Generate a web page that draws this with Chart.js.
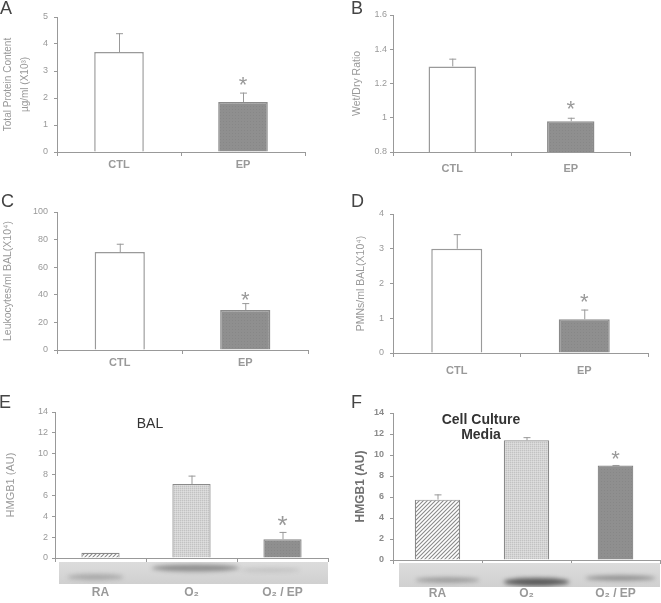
<!DOCTYPE html>
<html>
<head>
<meta charset="utf-8">
<script src="https://cdn.jsdelivr.net/npm/chart.js@4.4.1/dist/chart.umd.min.js"></script>
<style>
  body { margin: 0; background: #fff; width: 661px; height: 603px; position: relative; overflow: hidden;
         font-family: "Liberation Sans", Arial, sans-serif; }
  canvas { position: absolute; }
  .txt { position: absolute; white-space: nowrap; line-height: 1; color: #333; }
  .letter { font-size: 18px; color: #444; }
</style>
</head>
<body>
<canvas id="cA" width="330" height="190" style="left:0;top:0"></canvas>
<canvas id="cB" width="331" height="190" style="left:330px;top:0"></canvas>
<canvas id="cC" width="330" height="200" style="left:0;top:190px"></canvas>
<canvas id="cD" width="331" height="200" style="left:330px;top:190px"></canvas>
<canvas id="cE" width="330" height="213" style="left:0;top:390px"></canvas>
<canvas id="cF" width="331" height="213" style="left:330px;top:390px"></canvas>

<div class="txt letter" style="left:0;top:-1px">A</div>
<div class="txt letter" style="left:351px;top:-1px">B</div>
<div class="txt letter" style="left:1px;top:192px">C</div>
<div class="txt letter" style="left:351px;top:192px">D</div>
<div class="txt letter" style="left:-1px;top:393px">E</div>
<div class="txt letter" style="left:351px;top:393px">F</div>
<div class="txt" style="left:150px;top:416px;font-size:14px;transform:translateX(-50%)">BAL</div>
<div class="txt" style="left:481px;top:412px;font-size:14px;font-weight:bold;line-height:15px;text-align:center;transform:translateX(-50%)">Cell Culture<br>Media</div>

<script>
// ── Data ──
var AB_CATS = ['CTL', 'EP'];
var HMGB_CATS = ['RA', 'O\u2082', 'O\u2082 / EP'];

var PROTEIN = [3.7, 1.85];
var PROTEIN_ERR = [0.7, 0.35];
var PROTEIN_TICKS = [0, 1, 2, 3, 4, 5];

var WETDRY = [1.30, 0.98];
var WETDRY_ERR = [0.045, 0.02];
var WETDRY_TICKS = [0.8, 1, 1.2, 1.4, 1.6];
var WETDRY_TICK_LABELS = ['0.8', '1', '1.2', '1.4', '1.6'];

var LEUKO = [71, 29];
var LEUKO_ERR = [6, 5];
var LEUKO_TICKS = [0, 20, 40, 60, 80, 100];

var PMN = [3.0, 0.97];
var PMN_ERR = [0.42, 0.28];
var PMN_TICKS = [0, 1, 2, 3, 4];

var BAL = [0.5, 7.1, 1.8];
var BAL_ERR = [0, 0.8, 0.7];
var MEDIA = [5.75, 11.4, 9.0];
var MEDIA_ERR = [0.5, 0.3, 0.05];
var HMGB_TICKS = [0, 2, 4, 6, 8, 10, 12, 14];

var AB_SIG = [false, true];
var HMGB_SIG = [false, false, true];

// western blot band darkness under E and F
var BAL_BLOT = [0.3, 0.5, 0.16];
var MEDIA_BLOT = [0.42, 0.85, 0.5];

var FONT = '"Liberation Sans", Arial, sans-serif';
Chart.defaults.font.family = FONT;
Chart.defaults.animation = false;

// ── Fills ──
function makePattern(size, draw) {
  var c = document.createElement('canvas');
  c.width = size; c.height = size;
  draw(c.getContext('2d'), size);
  return c.getContext('2d').createPattern(c, 'repeat');
}
var FILL_WHITE = '#ffffff';
var FILL_DARK = makePattern(3, function (g) {
  g.fillStyle = '#8f8f8f'; g.fillRect(0, 0, 3, 3);
  g.fillStyle = '#878787'; g.fillRect(1, 1, 1, 1);
});
var FILL_HATCH = makePattern(4, function (g, s) {
  g.fillStyle = '#ffffff'; g.fillRect(0, 0, s, s);
  g.strokeStyle = '#8a8a8a'; g.lineWidth = 1.1;
  g.beginPath();
  g.moveTo(-1, s + 1); g.lineTo(s + 1, -1);
  g.moveTo(-1, 1); g.lineTo(1, -1);
  g.moveTo(s - 1, s + 1); g.lineTo(s + 1, s - 1);
  g.stroke();
});
var FILL_DOTS = makePattern(2, function (g) {
  g.fillStyle = '#d4d4d4'; g.fillRect(0, 0, 2, 2);
  g.fillStyle = '#c2c2c2'; g.fillRect(0, 0, 1, 1);
  g.fillStyle = '#dedede'; g.fillRect(1, 1, 1, 1);
});

// ── Plugins ──
var errorBars = {
  id: 'errorBars',
  afterDatasetsDraw: function (chart, args, opts) {
    var ctx = chart.ctx;
    var ys = chart.scales.y;
    chart.data.datasets.forEach(function (ds, di) {
      var meta = chart.getDatasetMeta(di);
      meta.data.forEach(function (bar, i) {
        var v = ds.data[i];
        if (v == null) return;
        var e = ds.errors ? ds.errors[i] : 0;
        var top = ys.getPixelForValue(v + e);
        ctx.save();
        ctx.strokeStyle = '#999';
        ctx.lineWidth = 1;
        if (e > 0) {
          ctx.beginPath();
          ctx.moveTo(bar.x + 0.5, bar.y);
          ctx.lineTo(bar.x + 0.5, top);
          ctx.moveTo(bar.x - 3, top + 0.5);
          ctx.lineTo(bar.x + 4, top + 0.5);
          ctx.stroke();
        }
        if (ds.sig && ds.sig[i]) {
          var cy = top - opts.starGap;
          ctx.fillStyle = '#999';
          ctx.font = opts.starSize + 'px ' + FONT;
          ctx.textAlign = 'center';
          ctx.textBaseline = 'alphabetic';
          ctx.fillText('*', bar.x, cy + opts.starSize * 0.575);
        }
        ctx.restore();
      });
    });
  }
};

var blot = {
  id: 'blot',
  afterDraw: function (chart, args, opts) {
    if (!opts || !opts.intens) return;
    var ctx = chart.ctx, a = chart.chartArea, xs = chart.scales.x;
    var x0 = a.left + opts.x0, x1 = a.right;
    var y0 = a.bottom + opts.y0, y1 = a.bottom + opts.y1;
    ctx.save();
    ctx.beginPath();
    ctx.rect(x0, y0, x1 - x0, y1 - y0);
    ctx.clip();
    var g = ctx.createLinearGradient(0, y0, 0, y1);
    g.addColorStop(0, '#dcdcdc');
    g.addColorStop(1, '#d0d0d0');
    ctx.fillStyle = g;
    ctx.fillRect(x0, y0, x1 - x0, y1 - y0);
    ctx.filter = 'blur(2px)';
    opts.bands.forEach(function (b, i) {
      var cx = xs.getPixelForValue(i) + b.dx;
      ctx.fillStyle = 'rgba(70,70,70,' + opts.intens[i] + ')';
      ctx.beginPath();
      ctx.ellipse(cx, a.bottom + b.dy, b.hw, b.hh, 0, 0, Math.PI * 2);
      ctx.fill();
    });
    ctx.restore();
  }
};

// ── Panel factory ──
function makePanel(id, p) {
  var canvas = document.getElementById(id);
  var H = canvas.height;
  return new Chart(canvas, {
    type: 'bar',
    data: { labels: p.cats, datasets: p.datasets },
    options: {
      responsive: false,
      layout: { padding: { left: 0, top: p.top, right: p.right, bottom: 0 } },
      plugins: {
        legend: { display: false },
        tooltip: { enabled: false },
        errorBars: { starGap: p.starGap, starSize: p.starSize },
        blot: p.blot || {}
      },
      scales: {
        x: {
          offset: true,
          grid: { display: true, drawOnChartArea: false, offset: true, tickLength: 4, color: '#999' },
          border: { color: '#999', width: 1 },
          ticks: { color: '#999', padding: p.xPad, font: { size: p.xSize, weight: 'bold' } },
          afterFit: function (s) { s.height = H - p.bottom; }
        },
        y: {
          min: p.ticks[0],
          max: p.ticks[p.ticks.length - 1],
          afterBuildTicks: function (s) { s.ticks = p.ticks.map(function (v) { return { value: v }; }); },
          grid: { display: true, drawOnChartArea: false, tickLength: 3, color: '#999' },
          border: { color: '#999', width: 1 },
          ticks: {
            color: p.tickColor || '#999', padding: p.tickPad,
            font: { size: p.tickSize || 9, weight: p.tickWeight || 'normal' },
            callback: function (v, i) { return p.tickLabels ? p.tickLabels[i] : String(v); }
          },
          title: { display: true, text: p.title, color: p.titleColor || '#999',
                   padding: { top: p.titlePad, bottom: 0 },
                   font: { size: p.titleSize, weight: p.titleWeight || 'normal', lineHeight: p.titleLH || 1.2 } },
          afterFit: function (s) { s.width = p.left; }
        }
      }
    },
    plugins: [errorBars, blot]
  });
}

function abSet(values, errs) {
  return [{
    data: values,
    errors: errs,
    sig: AB_SIG,
    backgroundColor: [FILL_WHITE, FILL_DARK],
    borderColor: ['#9a9a9a', '#8a8a8a'],
    borderWidth: 1.5,
    borderSkipped: 'bottom',
    categoryPercentage: 1,
    barPercentage: 0.40
  }];
}

makePanel('cA', {
  cats: AB_CATS, datasets: abSet(PROTEIN, PROTEIN_ERR), ticks: PROTEIN_TICKS,
  left: 57, top: 17, right: 25, bottom: 152,
  title: ['Total Protein Content', '\u00b5g/ml (X10\u00b3)'], titleSize: 10, titleLH: 1.7, titlePad: 0,
  tickPad: 6, xPad: 2, xSize: 11, starGap: 13, starSize: 22
});

makePanel('cB', {
  cats: AB_CATS, datasets: abSet(WETDRY, WETDRY_ERR), ticks: WETDRY_TICKS, tickLabels: WETDRY_TICK_LABELS,
  left: 63, top: 15, right: 31, bottom: 152,
  title: 'Wet/Dry Ratio', titleSize: 10.5, titlePad: 21,
  tickPad: 3, xPad: 6, xSize: 11, starGap: 14, starSize: 22
});

makePanel('cC', {
  cats: AB_CATS, datasets: abSet(LEUKO, LEUKO_ERR), ticks: LEUKO_TICKS,
  left: 57, top: 22, right: 22, bottom: 160,
  title: 'Leukocytes/ml BAL(X10\u2074)', titleSize: 10.5, titlePad: 2,
  tickPad: 6, xPad: 2, xSize: 11, starGap: 9, starSize: 22
});

makePanel('cD', {
  cats: AB_CATS, datasets: abSet(PMN, PMN_ERR), ticks: PMN_TICKS,
  left: 63, top: 24, right: 13, bottom: 163,
  title: 'PMNs/ml BAL(X10\u2074)', titleSize: 10.5, titlePad: 25,
  tickPad: 6, xPad: 7, xSize: 11, starGap: 13, starSize: 22
});

makePanel('cE', {
  cats: HMGB_CATS,
  datasets: [{
    data: BAL, errors: BAL_ERR, sig: HMGB_SIG,
    backgroundColor: [FILL_HATCH, FILL_DOTS, FILL_DARK],
    borderColor: ['#8a8a8a', '#8a8a8a', '#858585'],
    borderWidth: 1.2, borderSkipped: 'bottom',
    categoryPercentage: 1, barPercentage: 0.42
  }],
  ticks: HMGB_TICKS,
  left: 55, top: 22, right: 2, bottom: 168,
  title: 'HMGB1 (AU)', titleSize: 11, titlePad: 4,
  tickPad: 4, xPad: 23, xSize: 12, starGap: 13, starSize: 26,
  blot: {
    intens: BAL_BLOT, x0: 4, y0: 4, y1: 26,
    bands: [{ dx: -5, dy: 19, hw: 28, hh: 3 }, { dx: 4, dy: 10, hw: 44, hh: 3.5 }, { dx: -12, dy: 12, hw: 30, hh: 2 }]
  }
});

makePanel('cF', {
  cats: HMGB_CATS,
  datasets: [{
    data: MEDIA.map(function (v, i) { return i < 2 ? v : null; }),
    errors: MEDIA_ERR, sig: HMGB_SIG, grouped: false,
    backgroundColor: [FILL_HATCH, FILL_DOTS, FILL_DARK],
    borderColor: ['#8a8a8a', '#8a8a8a', '#858585'],
    borderWidth: 1.2, borderSkipped: 'bottom',
    categoryPercentage: 1, barPercentage: 0.51
  }, {
    data: MEDIA.map(function (v, i) { return i === 2 ? v : null; }),
    errors: MEDIA_ERR, sig: HMGB_SIG, grouped: false,
    backgroundColor: FILL_DARK, borderColor: '#858585',
    borderWidth: 1.2, borderSkipped: 'bottom',
    categoryPercentage: 1, barPercentage: 0.40
  }],
  ticks: HMGB_TICKS,
  left: 63, top: 23, right: 1, bottom: 170,
  title: 'HMGB1 (AU)', titleSize: 12, titleWeight: 'bold', titleColor: '#707070', titlePad: 23,
  tickPad: 6, tickWeight: 'bold', tickColor: '#8a8a8a', xPad: 22, xSize: 12, starGap: 12, starSize: 22,
  blot: {
    intens: MEDIA_BLOT, x0: 6, y0: 3, y1: 27,
    bands: [{ dx: 10, dy: 20, hw: 32, hh: 2.5 }, { dx: 10, dy: 22, hw: 33, hh: 4 }, { dx: 5, dy: 18, hw: 35, hh: 2.5 }]
  }
});
</script>
</body>
</html>
